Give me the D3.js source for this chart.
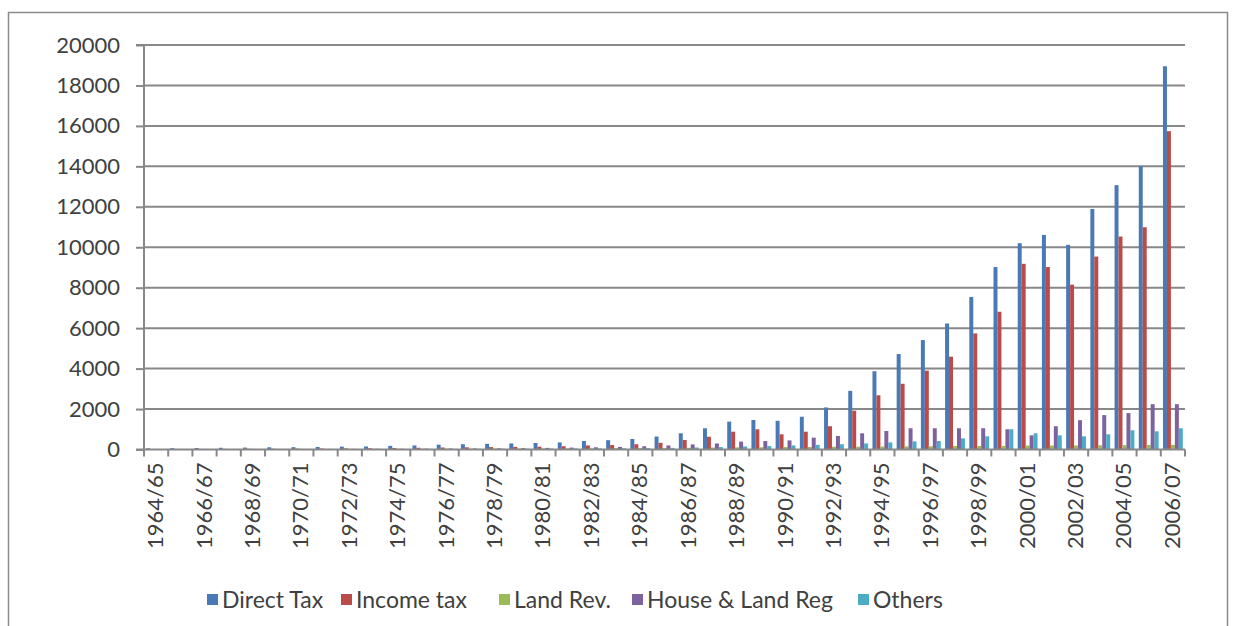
<!DOCTYPE html>
<html>
<head>
<meta charset="utf-8">
<script src="https://cdn.jsdelivr.net/npm/d3@7"></script>
<style>
  html, body { margin: 0; padding: 0; background: #fff; }
  svg { display: block; }
  text { font-family: Lato, "Open Sans", sans-serif; fill: #404040; }
</style>
</head>
<body>
<svg id="chart" width="1236" height="626"></svg>
<script>
const categories = ["1964/65","1965/66","1966/67","1967/68","1968/69","1969/70","1970/71","1971/72","1972/73","1973/74","1974/75","1975/76","1976/77","1977/78","1978/79","1979/80","1980/81","1981/82","1982/83","1983/84","1984/85","1985/86","1986/87","1987/88","1988/89","1989/90","1990/91","1991/92","1992/93","1993/94","1994/95","1995/96","1996/97","1997/98","1998/99","1999/00","2000/01","2001/02","2002/03","2003/04","2004/05","2005/06","2006/07"];

const seriesNames = ["Direct Tax", "Income tax", "Land Rev.", "House & Land Reg", "Others"];
const seriesColors = ["#4A7AB5", "#BB4B48", "#9BBB59", "#7D62A0", "#4BACC6"];

const directTax = [60,70,75,85,95,110,115,125,140,150,180,200,240,260,280,300,320,350,420,460,520,640,800,1050,1380,1460,1420,1620,2080,2900,3870,4720,5410,6230,7545,9020,10200,10610,10120,11890,13070,14020,18950];
const incomeTax = [20,25,28,32,36,42,45,50,55,60,75,85,100,110,120,130,140,160,200,220,260,330,470,630,880,1000,750,880,1150,1920,2680,3250,3900,4590,5740,6810,9180,9020,8150,9540,10530,10990,15740];
const landRev = [20,21,23,25,26,28,30,31,33,36,38,40,43,45,47,50,54,58,62,66,72,78,85,95,105,110,120,125,135,140,150,155,160,170,175,180,190,195,200,210,215,225,230];
const houseLandReg = [15,16,18,20,22,25,28,30,33,36,40,45,50,55,60,70,80,95,110,130,160,200,250,300,390,420,450,585,670,800,915,1050,1050,1050,1050,1000,700,1150,1450,1700,1800,2240,2240];
const others = [10,12,12,14,15,16,18,20,22,24,26,28,30,34,38,42,46,50,55,60,70,80,100,120,150,170,200,230,260,300,350,400,420,550,650,1000,800,700,650,750,950,900,1050];

const yTicks = [0,2000,4000,6000,8000,10000,12000,14000,16000,18000,20000];

const seriesValues = [directTax, incomeTax, landRev, houseLandReg, others];
const rows = categories.map((c, i) => ({cat: c, vals: seriesValues.map(s => s[i])}));

const svg = d3.select("#chart");

// outer frame
svg.append("rect").attr("x", 8.5).attr("y", 12.5).attr("width", 1219).attr("height", 620)
  .attr("fill", "#fff").attr("stroke", "#8a8a8a").attr("stroke-width", 1.5);

const pLeft = 144, pRight = 1185, pTop = 45, pBottom = 449.5;

const y = d3.scaleLinear().domain([0, 20000]).range([pBottom, pTop]);
const x0 = d3.scaleBand().domain(categories).range([pLeft, pRight]).paddingInner(0).paddingOuter(0);
const step = x0.step();
const bw = step / 6.1;
const x1 = d3.scaleBand().domain(d3.range(5)).range([0.55 * bw, step - 0.55 * bw]).padding(0);

// gridlines
svg.append("g").selectAll("line").data(yTicks.filter(t => t > 0)).join("line")
  .attr("x1", pLeft).attr("x2", pRight)
  .attr("y1", d => y(d)).attr("y2", d => y(d))
  .attr("stroke", "#888").attr("stroke-width", 2);

// bars
const g = svg.append("g");
g.selectAll("g").data(rows).join("g")
  .attr("transform", d => `translate(${x0(d.cat)},0)`)
  .selectAll("rect").data(d => d.vals.map((v, k) => ({v, k}))).join("rect")
  .attr("x", d => x1(d.k))
  .attr("width", x1.bandwidth())
  .attr("y", d => y(d.v))
  .attr("height", d => pBottom - y(d.v))
  .attr("fill", d => seriesColors[d.k]);

// y axis
const yAxis = d3.axisLeft(y).tickValues(yTicks).tickSize(8).tickPadding(16).tickFormat(d3.format("d"));
const ya = svg.append("g").attr("transform", `translate(${pLeft},0)`).call(yAxis);
ya.select(".domain").attr("stroke", "#888").attr("stroke-width", 2).attr("d", `M-8,${pTop}H0V${pBottom}H-8`);
ya.selectAll(".tick line").attr("stroke", "#888").attr("stroke-width", 2);
ya.selectAll(".tick text").attr("font-size", 22).style("font-family", "Lato, sans-serif").attr("fill", "#404040");

// x axis
const xa = svg.append("g").attr("transform", `translate(0,${pBottom})`);
xa.append("line").attr("x1", pLeft).attr("x2", pRight).attr("y1", 0).attr("y2", 0)
  .attr("stroke", "#888").attr("stroke-width", 2);
const boundaries = categories.map(c => x0(c)).concat([pRight]);
xa.selectAll("line.tk").data(boundaries).join("line").attr("class", "tk")
  .attr("x1", d => d).attr("x2", d => d).attr("y1", 0).attr("y2", 7)
  .attr("stroke", "#888").attr("stroke-width", 2);
xa.selectAll("text").data(categories.filter((c, i) => i % 2 === 0)).join("text")
  .attr("transform", d => `translate(${x0(d) + step / 2 + 7},${13}) rotate(-90)`)
  .attr("text-anchor", "end")
  .attr("font-size", 22)
  .text(d => d);

// legend
const legendX = [207, 341, 499, 632, 858];
const lg = svg.append("g").selectAll("g").data(seriesNames).join("g")
  .attr("transform", (d, i) => `translate(${legendX[i]},600)`);
lg.append("rect").attr("x", 0).attr("y", -6).attr("width", 11).attr("height", 11)
  .attr("fill", (d, i) => seriesColors[i]);
lg.append("text").attr("x", 15).attr("y", 8).attr("font-size", 23).text(d => d);
</script>
</body>
</html>
